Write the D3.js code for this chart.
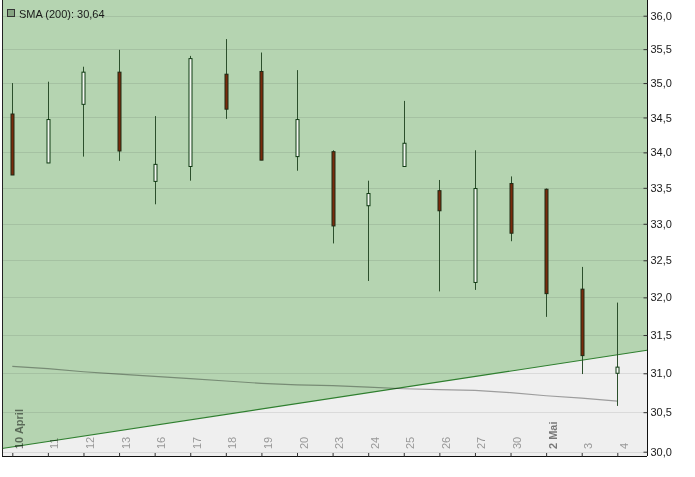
<!DOCTYPE html>
<html>
<head>
<meta charset="utf-8">
<script src="https://cdn.jsdelivr.net/npm/d3@7"></script>
<style>
  html, body { margin: 0; padding: 0; background: #fff; }
  svg { display: block; font-family: "Liberation Sans", Arial, sans-serif; }
</style>
</head>
<body>
<svg id="chart" width="695" height="477"></svg>
<script>
// ---- data ----
const dates = ["10 April","11","12","13","16","17","18","19","20","23","24","25","26","27","30","2 Mai","3","4"];
const boldDates = ["10 April","2 Mai"];
const open  = [34.55,33.85,34.69,35.16,33.59,33.80,35.13,35.17,33.94,34.01,33.25,33.80,33.46,32.20,33.56,33.48,32.11,31.00];
const high  = [35.00,35.02,35.24,35.49,34.52,35.40,35.65,35.45,35.19,34.03,33.60,34.74,33.61,34.03,33.66,33.49,32.41,31.93];
const low   = [33.68,33.85,33.94,33.88,33.27,33.60,34.48,33.89,33.74,32.73,32.22,33.80,32.08,32.10,32.76,31.74,30.99,30.58];
const close = [33.68,34.47,35.16,34.02,33.83,35.36,34.62,33.89,34.47,32.97,33.42,34.13,33.18,33.49,32.87,32.05,31.23,31.08];
const sma200 = [31.09,31.06,31.02,30.99,30.96,30.93,30.90,30.87,30.85,30.84,30.82,30.80,30.79,30.78,30.75,30.71,30.68,30.64];
const trendValues = [30.06, 31.24]; // at first and last date
const yTicks = [30.0,30.5,31.0,31.5,32.0,32.5,33.0,33.5,34.0,34.5,35.0,35.5,36.0];
const legendLabel = "SMA (200): 30,64";

(function () {
// ---- layout ----
const svg = d3.select("#chart");
const pL = 2, pR = 647, pT = 0, pB = 456;

const x = d3.scalePoint().domain(dates).range([12.3, 617.3]);
const y = d3.scaleLog().domain([30, 36]).range([451.7, 15.7]);

const fmt = v => d3.format(".1f")(v).replace(".", ",");

// background
svg.append("rect").attr("x", pL).attr("y", pT).attr("width", pR - pL).attr("height", pB - pT).attr("fill", "#efefef");

// trend line in pixel space, extended to plot edges
const x0 = x(dates[0]), x1 = x(dates[dates.length - 1]);
const y0 = y(trendValues[0]), y1 = y(trendValues[1]);
const slope = (y1 - y0) / (x1 - x0);
const tl = [[pL, y0 + slope * (pL - x0)], [pR, y0 + slope * (pR - x0)]];

svg.append("path")
  .attr("d", `M${pL},${pT}L${pR},${pT}L${tl[1][0]},${tl[1][1]}L${tl[0][0]},${tl[0][1]}Z`)
  .attr("fill", "#b5d4b1");

// gridlines
svg.append("g").selectAll("line").data(yTicks).join("line")
  .attr("x1", pL).attr("x2", pR)
  .attr("y1", d => Math.round(y(d)) + 0.5).attr("y2", d => Math.round(y(d)) + 0.5)
  .attr("stroke", "#e9e9e9").style("mix-blend-mode", "multiply");

// trend line
svg.append("line")
  .attr("x1", tl[0][0]).attr("y1", tl[0][1]).attr("x2", tl[1][0]).attr("y2", tl[1][1])
  .attr("stroke", "#2f7f2f").attr("stroke-width", 1.1);

// SMA line
svg.append("path")
  .datum(sma200)
  .attr("d", d3.line().x((d, i) => x(dates[i])).y(d => y(d)))
  .attr("fill", "none").attr("stroke", "#a8a8a8").attr("stroke-width", 1.2)
  .style("mix-blend-mode", "multiply");

// candles
const candles = dates.map((d, i) => ({d, o: open[i], h: high[i], l: low[i], c: close[i]}));
const cg = svg.append("g");
cg.selectAll("line").data(candles).join("line")
  .attr("x1", d => Math.round(x(d.d)) + 0.5).attr("x2", d => Math.round(x(d.d)) + 0.5)
  .attr("y1", d => y(d.h)).attr("y2", d => y(d.l))
  .attr("stroke", "#2c4f2c").attr("stroke-width", 1);
cg.selectAll("rect").data(candles).join("rect")
  .attr("x", d => Math.round(x(d.d)) - 1)
  .attr("width", 3)
  .attr("y", d => y(Math.max(d.o, d.c)))
  .attr("height", d => Math.max(1, y(Math.min(d.o, d.c)) - y(Math.max(d.o, d.c))))
  .attr("fill", d => d.c < d.o ? "#7a2a0c" : "#f4f8f2")
  .attr("stroke", d => d.c < d.o ? "#1f2a14" : "#0f3a12")
  .attr("stroke-width", 1);

// frame
svg.append("line").attr("x1", pL + 0.5).attr("x2", pL + 0.5).attr("y1", pT).attr("y2", pB).attr("stroke", "#222");

// y axis (right)
const yAxis = d3.axisRight(y).tickValues(yTicks).tickFormat(fmt).tickSizeInner(-4).tickSizeOuter(0).tickPadding(3);
const yg = svg.append("g").attr("transform", `translate(${pR + 0.5},0)`).call(yAxis);
yg.select(".domain").attr("d", `M0,${pT}V${pB}`).attr("stroke", "#111");
yg.selectAll(".tick line").attr("stroke", "#333");
yg.selectAll("text").attr("font-size", 11).attr("fill", "#1a1a1a").attr("font-family", "Liberation Sans, Arial, sans-serif");

// x axis (bottom)
const xAxis = d3.axisBottom(x).tickFormat("").tickSizeInner(-3.5).tickSizeOuter(0);
const xg = svg.append("g").attr("transform", `translate(0,${pB + 0.5})`).call(xAxis);
xg.select(".domain").attr("d", `M${pL},0H${pR}`).attr("stroke", "#111");
xg.selectAll(".tick line").attr("stroke", "#333");

// x labels, rotated
svg.append("g").selectAll("text").data(dates).join("text")
  .attr("transform", d => `translate(${x(d) + 10.5},449) rotate(-90)`)
  .attr("text-anchor", "start")
  .attr("font-size", 11)
  .attr("font-weight", d => boldDates.includes(d) ? "bold" : "normal")
  .attr("fill", "#000")
  .attr("fill-opacity", d => boldDates.includes(d) ? 0.5 : 0.38)
  .text(d => d);

// legend
svg.append("rect").attr("x", 7.5).attr("y", 9.5).attr("width", 7).attr("height", 7)
  .attr("fill", "#86a482").attr("stroke", "#333");
svg.append("text").attr("x", 19).attr("y", 17.5).attr("font-size", 11).attr("fill", "#1a1a1a").text(legendLabel);
})();
</script>
</body>
</html>
